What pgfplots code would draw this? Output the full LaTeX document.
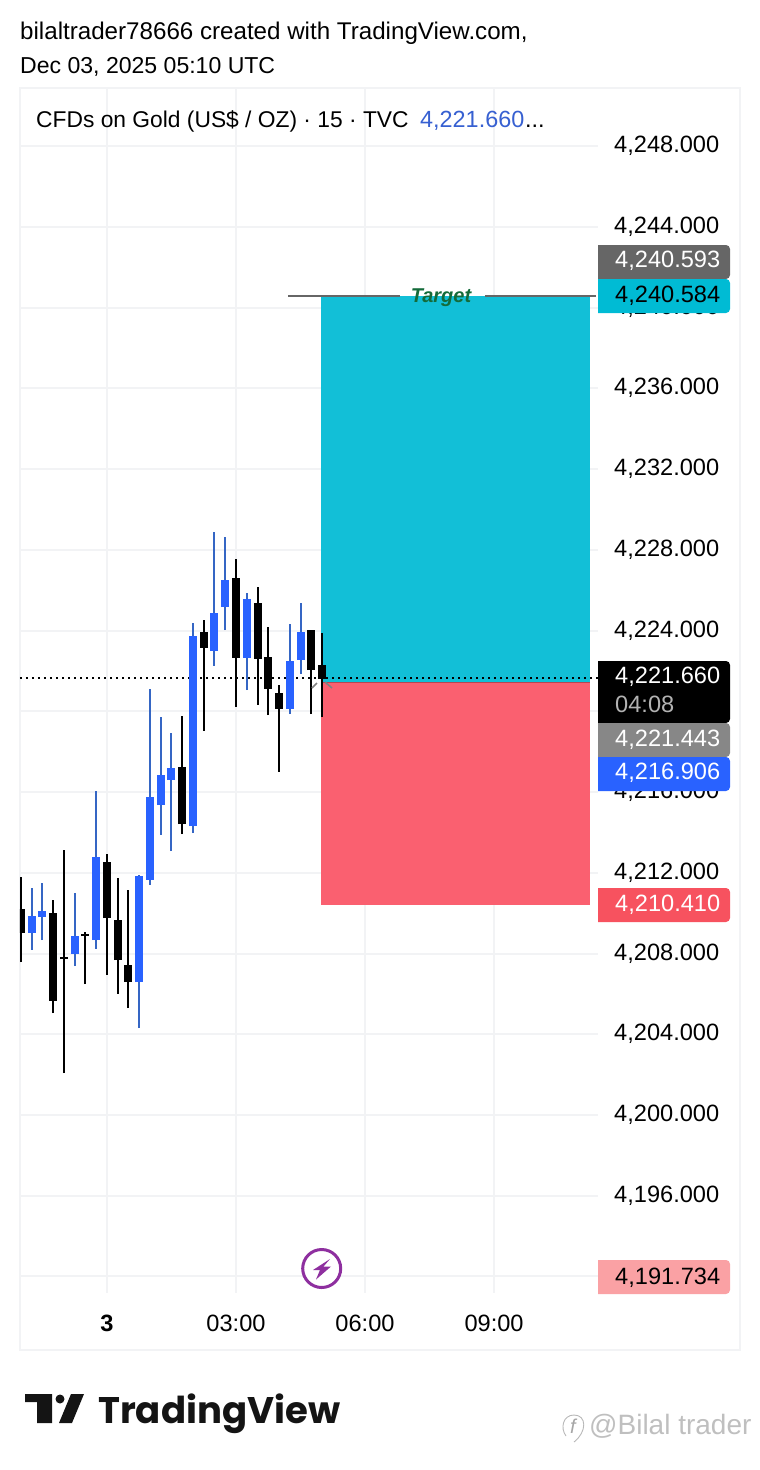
\documentclass[border=0pt]{standalone}
\usepackage{fontspec}
\usepackage{pgfplots}
\usepackage{pgfplotstable}
\pgfplotsset{compat=1.18}
\setmainfont{Liberation Sans}
\newfontfamily\logofont{Poppins}
\definecolor{gridc}{HTML}{F2F3F5}
\definecolor{tvblue}{HTML}{2962FF}
\definecolor{wickblue}{HTML}{3566C4}
\definecolor{tealz}{HTML}{12BFD7}
\definecolor{redz}{HTML}{FA6070}
\definecolor{tealb}{HTML}{00BBD4}
\definecolor{redb}{HTML}{F7525F}
\definecolor{pinkb}{HTML}{FAA1A4}
\definecolor{purp}{HTML}{8E2F9F}
\definecolor{targ}{HTML}{146B3A}
\newcommand{\tf}{\fontsize{23.6}{28}\selectfont}
\pgfplotstableread{
x h l t b
-7 4211.25 4208.18 4209.86 4209.02
-6 4211.50 4208.67 4210.11 4209.81
-3 4211.00 4207.38 4208.87 4207.98
-1 4216.06 4208.23 4212.78 4208.67
3 4211.89 4204.31 4211.84 4206.59
4 4221.11 4211.40 4215.76 4211.65
5 4219.72 4213.88 4216.85 4215.36
6 4218.93 4213.08 4217.20 4216.60
8 4224.38 4213.97 4223.74 4214.32
10 4228.89 4222.25 4224.88 4222.99
11 4228.64 4224.03 4226.51 4225.17
13 4225.87 4221.06 4225.57 4222.65
17 4224.33 4219.87 4222.50 4220.12
18 4225.37 4221.85 4223.93 4222.55
}\bluecandles
\pgfplotstableread{
x h l t b
-8 4211.79 4207.58 4210.21 4209.02
-5 4210.65 4205.05 4210.01 4205.65
-4 4213.13 4202.08 4207.83 4207.73
-2 4209.07 4206.49 4208.97 4208.87
0 4212.93 4206.94 4212.54 4209.76
1 4211.74 4206.00 4209.66 4207.68
2 4211.15 4205.30 4207.43 4206.59
7 4219.77 4213.92 4217.24 4214.42
9 4224.53 4219.03 4223.93 4223.14
12 4227.55 4220.22 4226.61 4222.65
14 4226.16 4220.32 4225.37 4222.60
15 4224.18 4219.82 4222.70 4221.11
16 4221.31 4217.00 4220.91 4220.12
19 4224.03 4219.87 4224.03 4222.05
20 4223.89 4219.72 4222.30 4221.61
}\blackcandles
\newcommand{\pricebox}[6]{% fill, top, bottom, textcolour, baseline, text
  \fill[#1] (598,#2) -- (726,#2) arc[start angle=-90,end angle=0,radius=4] -- (730,#3-4) arc[start angle=0,end angle=90,radius=4] -- (598,#3) -- cycle;
  \node[anchor=base west,inner sep=0pt,text=#4,font=\tf] at (615,#5) {#6};
}
\pgfplotsset{
  wicks/.style={draw=none,no markers,mark size=0pt,forget plot,
    error bars/y dir=plus,error bars/y explicit,error bars/error mark=none,
    error bars/error bar style={line width=2pt,draw=#1,solid}},
  bodies/.style={draw=none,no markers,mark size=0pt,forget plot,
    error bars/y dir=plus,error bars/y explicit,error bars/error mark=none,
    error bars/error bar style={line width=8pt,draw=#1,solid}},
}
\begin{document}
\begin{tikzpicture}
\begin{scope}[x=1pt,y=-1pt]
\useasboundingbox (0,0) rectangle (760,1470);
\draw[gridc,line width=2pt] (20,88) rectangle (740,1350);
\end{scope}
\begin{axis}[
  at={(20pt,-1293pt)},anchor=south west,
  scale only axis,width=578pt,height=1205pt,
  xmin=-8.09,xmax=45.67,ymin=4191.18,ymax=4250.89,
  axis line style={draw=none},tick style={draw=none},
  major tick length=0pt,
  grid=major,grid style={gridc,line width=2pt},
  ytick={4192,4196,4200,4204,4208,4212,4216,4220,4224,4228,4232,4236,4240,4244,4248},
  yticklabels={{4,192.000},{4,196.000},{4,200.000},{4,204.000},{4,208.000},{4,212.000},{4,216.000},{4,220.000},{4,224.000},{4,228.000},{4,232.000},{4,236.000},{4,240.000},{4,244.000},{4,248.000}},
  xtick={0,12,24,36},xticklabels={\textbf{3},03:00,06:00,09:00},
  yticklabel pos=right,
  yticklabel style={font=\tf,anchor=west,inner sep=0pt,xshift=16pt,yshift=2pt,text height=17pt,text depth=0pt},
  xticklabel style={font=\tf,anchor=base,inner sep=0pt,yshift=-38pt},
]
\addplot[fill=tealz,draw=none,forget plot] coordinates {(19.9,4221.443) (19.9,4240.584) (44.93,4240.584) (44.93,4221.443)} -- cycle;
\addplot[fill=redz,draw=none,forget plot] coordinates {(19.9,4210.41) (19.9,4221.443) (44.93,4221.443) (44.93,4210.41)} -- cycle;
\addplot[color=black!45!redz,line width=1.2pt,opacity=.6,forget plot] coordinates {(19.9,4221.443) (44.93,4221.443)};
\addplot[color=black,line width=2pt,dash pattern=on 2pt off 4pt,forget plot] coordinates {(-8.09,4221.66) (45.67,4221.66)};
\addplot[wicks=wickblue] table[x=x,y=l,y error plus expr=\thisrow{h}-\thisrow{l}]{\bluecandles};
\addplot[bodies=tvblue] table[x=x,y=b,y error plus expr=\thisrow{t}-\thisrow{b}]{\bluecandles};
\addplot[wicks=black] table[x=x,y=l,y error plus expr=\thisrow{h}-\thisrow{l}]{\blackcandles};
\addplot[bodies=black] table[x=x,y=b,y error plus expr=\thisrow{t}-\thisrow{b}]{\blackcandles};
\end{axis}
\begin{scope}[x=1pt,y=-1pt]
% header
\node[anchor=base west,inner sep=0pt,font=\fontsize{24.15}{28}\selectfont] at (20,39) {bilaltrader78666 created with TradingView.com,};
\node[anchor=base west,inner sep=0pt,font=\fontsize{23.05}{28}\selectfont] at (20,73) {Dec 03, 2025 05:10 UTC};
\node[anchor=base west,inner sep=0pt,font=\fontsize{22.8}{28}\selectfont] at (36,127) {CFDs on Gold (US\$ / OZ) · 15 · TVC};
\node[anchor=base west,inner sep=0pt,font=\fontsize{23.4}{28}\selectfont,text=tvblue!80!black!90] at (420,127) {4,221.660};
\node[anchor=base west,inner sep=0pt,font=\fontsize{23.4}{28}\selectfont] at (525,127) {...};
% target line
\draw[gray!80!black,line width=2pt] (288,296) -- (400,296) (485,296) -- (596,296);
\node[anchor=base,inner sep=0pt,text=targ,font=\fontsize{20}{24}\selectfont\bfseries\itshape] at (441,302) {Target};
% small position marks
\draw[gray,line width=1.6pt] (312,688) -- (317,683) (325,682) -- (332,688);
% price labels
\pricebox{black!60}{245}{279}{white}{267.5}{4,240.593}
\pricebox{tealb}{279}{313}{black}{302}{4,240.584}
\pricebox{black}{661}{723}{white}{683.5}{4,221.660}
\node[anchor=base west,inner sep=0pt,text=black!30,font=\tf] at (615,712) {04:08};
\pricebox{black!47}{723}{757}{white}{746}{4,221.443}
\pricebox{tvblue}{757}{791}{white}{779}{4,216.906}
\pricebox{redb}{888}{922}{white}{911}{4,210.410}
\pricebox{pinkb}{1260}{1294}{black}{1284}{4,191.734}
% lightning icon
\draw[purp,line width=3pt,fill=white] (321.7,1268.5) circle[radius=19];
\fill[purp] (330,1259) -- (313,1270) -- (320,1270) -- (316,1279.5) -- (331,1266.5) -- (323.5,1266.5) -- cycle;
% logo
\fill[black!92] (25,1394) -- (52,1394) -- (52,1423) -- (37,1423) -- (37,1402) -- (25,1402) -- cycle;
\fill[black!92] (60,1399) circle[radius=4.5];
\fill[black!92] (71,1394) -- (84,1394) -- (72,1423) -- (59,1423) -- cycle;
\node[anchor=base west,inner sep=0pt,text=black!92] at (98,1423) {\resizebox{242pt}{!}{\logofont\bfseries TradingView}};
% watermark
\node[anchor=base west,inner sep=0pt,text=black!25,font=\fontsize{28}{30}\selectfont] at (589,1434) {@Bilal trader};
\draw[black!28,line width=.9pt] (566,1436) .. controls (560,1428) and (563,1415) .. (574,1415) .. controls (587,1415) and (587,1432) .. (574,1442);
\node[anchor=base,inner sep=0pt,text=black!35,font=\fontsize{20}{22}\selectfont\itshape] at (573,1433) {f};
\end{scope}
\end{tikzpicture}
\end{document}
